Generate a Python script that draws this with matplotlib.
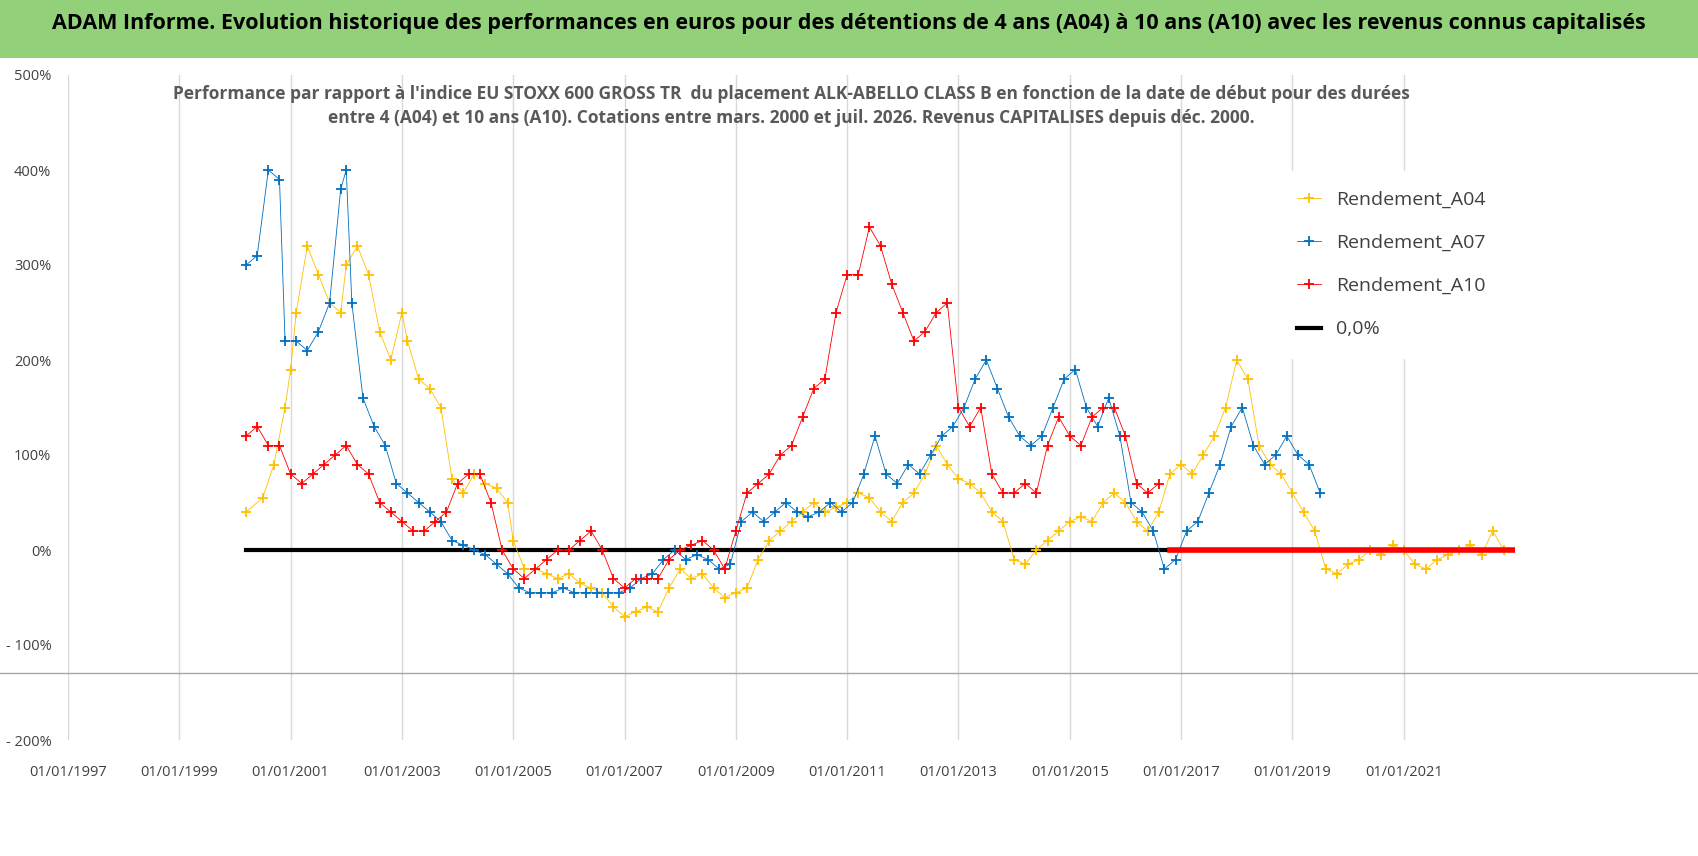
import numpy as np
import matplotlib
matplotlib.use("Agg")
import matplotlib.pyplot as plt
from matplotlib.patches import Rectangle
from matplotlib.lines import Line2D

# Données (année décimale, performance en %)
a04_t = [2000.2, 2000.5, 2000.7, 2000.9, 2001.0, 2001.1, 2001.3, 2001.5, 2001.7, 2001.9, 2002.0, 2002.2,
         2002.4, 2002.6, 2002.8, 2003.0, 2003.1, 2003.3, 2003.5, 2003.7, 2003.9, 2004.1, 2004.3, 2004.5,
         2004.7, 2004.9, 2005.0, 2005.2, 2005.4, 2005.6, 2005.8, 2006.0, 2006.2, 2006.4, 2006.6, 2006.8,
         2007.0, 2007.2, 2007.4, 2007.6, 2007.8, 2008.0, 2008.2, 2008.4, 2008.6, 2008.8, 2009.0, 2009.2,
         2009.4, 2009.6, 2009.8, 2010.0, 2010.2, 2010.4, 2010.6, 2010.8, 2011.0, 2011.2, 2011.4, 2011.6,
         2011.8, 2012.0, 2012.2, 2012.4, 2012.6, 2012.8, 2013.0, 2013.2, 2013.4, 2013.6, 2013.8, 2014.0,
         2014.2, 2014.4, 2014.6, 2014.8, 2015.0, 2015.2, 2015.4, 2015.6, 2015.8, 2016.0, 2016.2, 2016.4,
         2016.6, 2016.8, 2017.0, 2017.2, 2017.4, 2017.6, 2017.8, 2018.0, 2018.2, 2018.4, 2018.6, 2018.8,
         2019.0, 2019.2, 2019.4, 2019.6, 2019.8, 2020.0, 2020.2, 2020.4, 2020.6, 2020.8, 2021.0, 2021.2,
         2021.4, 2021.6, 2021.8, 2022.0, 2022.2, 2022.4, 2022.6, 2022.8]
a04_v = [40, 55, 90, 150, 190, 250, 320, 290, 260, 250, 300, 320,
         290, 230, 200, 250, 220, 180, 170, 150, 75, 60, 80, 70,
         65, 50, 10, -20, -20, -25, -30, -25, -35, -40, -45, -60,
         -70, -65, -60, -65, -40, -20, -30, -25, -40, -50, -45, -40,
         -10, 10, 20, 30, 40, 50, 40, 45, 50, 60, 55, 40,
         30, 50, 60, 80, 110, 90, 75, 70, 60, 40, 30, -10,
         -15, 0, 10, 20, 30, 35, 30, 50, 60, 50, 30, 20,
         40, 80, 90, 80, 100, 120, 150, 200, 180, 110, 90, 80,
         60, 40, 20, -20, -25, -15, -10, 0, -5, 5, 0, -15,
         -20, -10, -5, 0, 5, -5, 20, 0]

a07_t = [2000.2, 2000.4, 2000.6, 2000.8, 2000.9, 2001.1, 2001.3, 2001.5, 2001.7, 2001.9, 2002.0, 2002.1,
         2002.3, 2002.5, 2002.7, 2002.9, 2003.1, 2003.3, 2003.5, 2003.7, 2003.9, 2004.1, 2004.3, 2004.5,
         2004.7, 2004.9, 2005.1, 2005.3, 2005.5, 2005.7, 2005.9, 2006.1, 2006.3, 2006.5, 2006.7, 2006.9,
         2007.1, 2007.3, 2007.5, 2007.7, 2007.9, 2008.1, 2008.3, 2008.5, 2008.7, 2008.9, 2009.1, 2009.3,
         2009.5, 2009.7, 2009.9, 2010.1, 2010.3, 2010.5, 2010.7, 2010.9, 2011.1, 2011.3, 2011.5, 2011.7,
         2011.9, 2012.1, 2012.3, 2012.5, 2012.7, 2012.9, 2013.1, 2013.3, 2013.5, 2013.7, 2013.9, 2014.1,
         2014.3, 2014.5, 2014.7, 2014.9, 2015.1, 2015.3, 2015.5, 2015.7, 2015.9, 2016.1, 2016.3, 2016.5,
         2016.7, 2016.9, 2017.1, 2017.3, 2017.5, 2017.7, 2017.9, 2018.1, 2018.3, 2018.5, 2018.7, 2018.9,
         2019.1, 2019.3, 2019.5]
a07_v = [300, 310, 400, 390, 220, 220, 210, 230, 260, 380, 400, 260,
         160, 130, 110, 70, 60, 50, 40, 30, 10, 5, 0, -5,
         -15, -25, -40, -45, -45, -45, -40, -45, -45, -45, -45, -45,
         -40, -30, -25, -10, 0, -10, -5, -10, -20, -15, 30, 40,
         30, 40, 50, 40, 35, 40, 50, 40, 50, 80, 120, 80,
         70, 90, 80, 100, 120, 130, 150, 180, 200, 170, 140, 120,
         110, 120, 150, 180, 190, 150, 130, 160, 120, 50, 40, 20,
         -20, -10, 20, 30, 60, 90, 130, 150, 110, 90, 100, 120,
         100, 90, 60]

a10_t = [2000.2, 2000.4, 2000.6, 2000.8, 2001.0, 2001.2, 2001.4, 2001.6, 2001.8, 2002.0, 2002.2, 2002.4,
         2002.6, 2002.8, 2003.0, 2003.2, 2003.4, 2003.6, 2003.8, 2004.0, 2004.2, 2004.4, 2004.6, 2004.8,
         2005.0, 2005.2, 2005.4, 2005.6, 2005.8, 2006.0, 2006.2, 2006.4, 2006.6, 2006.8, 2007.0, 2007.2,
         2007.4, 2007.6, 2007.8, 2008.0, 2008.2, 2008.4, 2008.6, 2008.8, 2009.0, 2009.2, 2009.4, 2009.6,
         2009.8, 2010.0, 2010.2, 2010.4, 2010.6, 2010.8, 2011.0, 2011.2, 2011.4, 2011.6, 2011.8, 2012.0,
         2012.2, 2012.4, 2012.6, 2012.8, 2013.0, 2013.2, 2013.4, 2013.6, 2013.8, 2014.0, 2014.2, 2014.4,
         2014.6, 2014.8, 2015.0, 2015.2, 2015.4, 2015.6, 2015.8, 2016.0, 2016.2, 2016.4, 2016.6]
a10_v = [120, 130, 110, 110, 80, 70, 80, 90, 100, 110, 90, 80,
         50, 40, 30, 20, 20, 30, 40, 70, 80, 80, 50, 0,
         -20, -30, -20, -10, 0, 0, 10, 20, 0, -30, -40, -30,
         -30, -30, -10, 0, 5, 10, 0, -20, 20, 60, 70, 80,
         100, 110, 140, 170, 180, 250, 290, 290, 340, 320, 280, 250,
         220, 230, 250, 260, 150, 130, 150, 80, 60, 60, 70, 60,
         110, 140, 120, 110, 140, 150, 150, 120, 70, 60, 70]
# A10 sans historique suffisant : valeurs à 0 de fin 2016 à fin 2022
a10_zero_t = [2016.8, 2017.5, 2018.0, 2018.5, 2019.0, 2019.5, 2020.0, 2020.5, 2021.0, 2021.5, 2022.0, 2022.5, 2023.0]
a10_zero_v = [0] * len(a10_zero_t)

zero_t = [2000.2, 2022.8]
zero_v = [0, 0]

tick_years = list(range(1997, 2023, 2))
ytick_vals = [-200, -100, 0, 100, 200, 300, 400, 500]
ytick_labels = ["- 200%", "- 100%", "0%", "100%", "200%", "300%", "400%", "500%"]

YELLOW = "#ffc000"
BLUE = "#0070c0"
RED = "#ff0000"

plt.rcParams['font.family'] = ['Open Sans', 'DejaVu Sans']

fig = plt.figure(figsize=(16.98, 8.56), dpi=100)
fig.patches.append(Rectangle((0, 1 - 58 / 856), 1, 58 / 856, transform=fig.transFigure,
                             facecolor="#92d07a", edgecolor="none", zorder=0))
fig.text(0.5, 1 - 24 / 856, "ADAM Informe. Evolution historique des performances en euros pour des détentions "
         "de 4 ans (A04) à 10 ans (A10) avec les revenus connus capitalisés",
         ha="center", va="center", fontsize=15.5, fontweight="bold", color="black")
# trait gris horizontal traversant la figure
fig.add_artist(Line2D([0, 1], [1 - 673 / 856] * 2, transform=fig.transFigure, color="#a6a6a6", lw=1))

ax = fig.add_axes([68 / 1698, 1 - 740 / 856, (1515 - 68) / 1698, (740 - 75) / 856])
ax.plot(zero_t, zero_v, color="black", lw=3, zorder=2, label="0,0%")

kw = dict(marker="+", ms=7, mew=1.3, lw=0.6, zorder=3)
ax.plot(a04_t, a04_v, color=YELLOW, label="Rendement_A04", **kw)
ax.plot(a07_t, a07_v, color=BLUE, label="Rendement_A07", **kw)
ax.plot(a10_t, a10_v, color=RED, label="Rendement_A10", **kw)
ax.plot(a10_zero_t, a10_zero_v, color=RED, lw=4, zorder=3)

ax.set_xlim(1997, 2023)
ax.set_ylim(-200, 500)
ax.set_xticks(tick_years)
ax.set_xticklabels([f"01/01/{y}" for y in tick_years], fontsize=10.5, color="#404040")
ax.set_yticks(ytick_vals)
ax.set_yticklabels(ytick_labels, fontsize=10.5, color="#404040")
ax.grid(axis="x", color="#d9d9d9", lw=1)
ax.tick_params(length=0)
ax.tick_params(axis="x", pad=18)
ax.tick_params(axis="y", pad=12)
for s in ax.spines.values():
    s.set_visible(False)

ax.text(0.5, 0.985, "Performance par rapport à l'indice EU STOXX 600 GROSS TR  du placement ALK-ABELLO CLASS B "
        "en fonction de la date de début pour des durées\nentre 4 (A04) et 10 ans (A10). Cotations entre mars. "
        "2000 et juil. 2026. Revenus CAPITALISES depuis déc. 2000.",
        transform=ax.transAxes, ha="center", va="top", fontsize=12.5, fontweight="bold",
        color="#595959", linespacing=1.4)

h, l = ax.get_legend_handles_labels()
order = [1, 2, 3, 0]
leg = ax.legend([h[i] for i in order], [l[i] for i in order], loc="upper right",
                bbox_to_anchor=(1.0, 0.87), fontsize=14, frameon=True, framealpha=1,
                edgecolor="white", labelspacing=1.3, handlelength=1.2, borderpad=1.0)
for t in leg.get_texts():
    t.set_color("#404040")

fig.savefig("out.png", dpi=100)
